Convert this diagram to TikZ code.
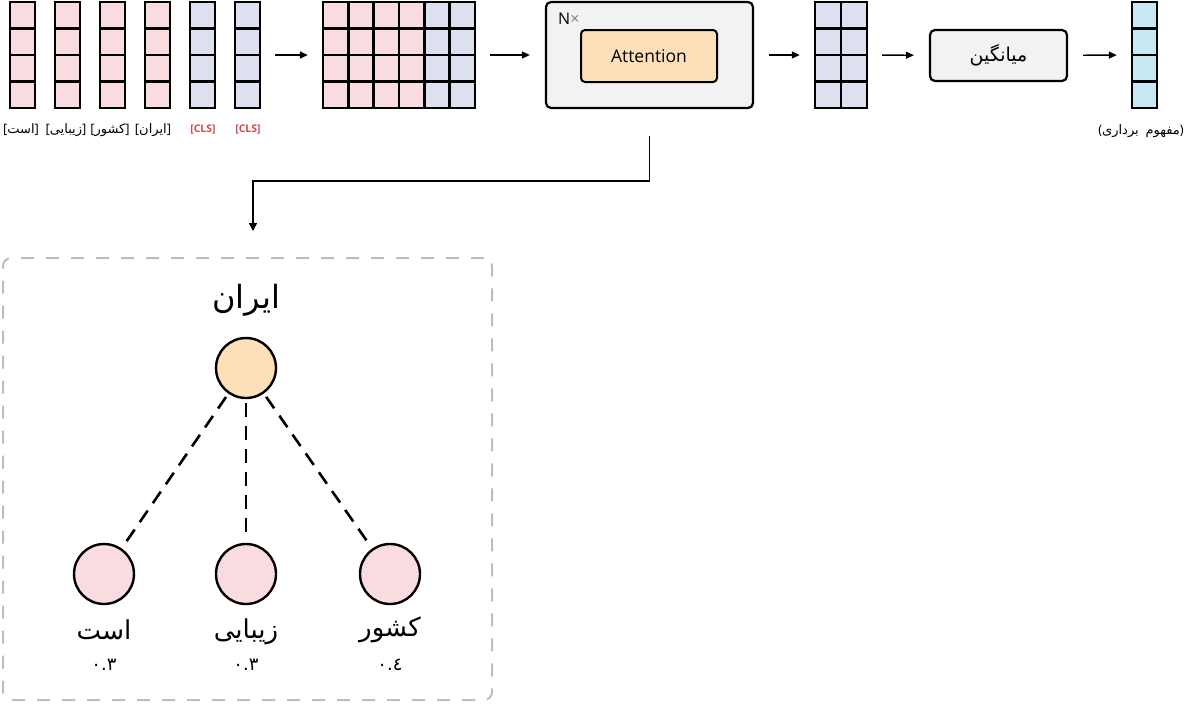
\documentclass[tikz,border=0pt]{standalone}
\usepackage{fontspec}
\setmainfont{Open Sans}
\newfontfamily\fafont[Script=Arabic]{DejaVu Sans}
\TeXXeTstate=1
\usetikzlibrary{arrows.meta}
\definecolor{tokpink}{HTML}{F9DCDF}
\definecolor{clsblue}{HTML}{DDE0EE}
\definecolor{vecblue}{HTML}{C8E8F4}
\definecolor{attorange}{HTML}{FDDFBA}
\definecolor{boxgray}{HTML}{F2F2F2}
\definecolor{clsred}{HTML}{CC4B4B}
\definecolor{framegray}{HTML}{BDBDBD}
\tikzset{every picture/.append style={x=1pt,y=-1pt}}
\tikzset{
  cell/.style={draw,line width=2.6pt},
  block/.style={inner sep=0pt,minimum height=106},
  graybox/.style={draw,line width=2.2pt,rounded corners=5pt,fill=boxgray},
  attbox/.style={draw,line width=2pt,rounded corners=4pt,fill=attorange},
  flow/.style={-{Triangle[length=8pt,width=7pt]},line width=1.4pt,shorten <=15pt,shorten >=15pt},
  link/.style={-{Triangle[length=8pt,width=8pt]},line width=1.6pt,shorten >=26pt},
  tok/.style={inner sep=0pt,font=\fontsize{13}{15}\selectfont},
  cls/.style={inner sep=0pt,font=\bfseries\fontsize{10.5}{12}\selectfont,text=clsred},
  zoombox/.style={draw=framegray,line width=2pt,dash pattern=on 13pt off 12pt,rounded corners=8pt},
  circ/.style={circle,draw,line width=2.4pt,minimum size=60,inner sep=0pt},
  weight/.style={draw,line width=2.6pt,dash pattern=on 14pt off 9pt,shorten <=4pt,shorten >=4pt},
  word/.style={font=\fafont\fontsize{26}{30}\selectfont},
  score/.style={font=\fafont\fontsize{18}{20}\selectfont}
}

\begin{document}
\begin{tikzpicture}
  \useasboundingbox (0,0) rectangle (1187,704);
  \foreach \x/\c in {10/tokpink,55/tokpink,100/tokpink,145/tokpink,190/clsblue,235/clsblue}
    \foreach \r in {0,...,3}
      \draw[cell,fill=\c] (\x,2+26.5*\r) rectangle ++(25,26.5);
  \foreach \i/\c in {0/tokpink,1/tokpink,2/tokpink,3/tokpink,4/clsblue,5/clsblue}
    \foreach \r in {0,...,3}
      \draw[cell,fill=\c] (323+25.33*\i,2+26.5*\r) rectangle ++(25.33,26.5);
  \foreach \i in {0,1}
    \foreach \r in {0,...,3}
      \draw[cell,fill=clsblue] (815+26*\i,2+26.5*\r) rectangle ++(26,26.5);
  \foreach \r in {0,...,3}
    \draw[cell,fill=vecblue] (1132,2+26.5*\r) rectangle ++(25,26.5);
  \node[block,minimum width=250] (tokens) at(135,55){};
  \node[block,minimum width=152] (mat) at(399,55){};
  \node[graybox,minimum width=207,minimum height=106] (nx) at(649.5,55){};
  \node[attbox,minimum width=136,minimum height=52,font=\fontsize{17.5}{20}\selectfont] (att) at(649,56){Attention};
  \node[anchor=base west,inner sep=0pt,font=\fontsize{16}{18}\selectfont] (times) at(558,24){N{\color{gray}×}};
  \node[block,minimum width=52] (mat2) at(841,55){};
  \node[graybox,minimum width=137,minimum height=51,font=\fafont\fontsize{19}{22}\selectfont] (avg) at(998.5,55.5){\beginR میانگین\endR};
  \node[block,minimum width=25] (vec) at(1144.5,55){};
  \draw[flow] (tokens) -- (mat);
  \draw[flow] (mat) -- (nx);
  \draw[flow] (nx) -- (mat2);
  \draw[flow] (mat2) -- (avg);
  \draw[flow] (avg) -- (vec);
  \node[tok] (l1) at(21,130){[{\fafont\beginR است\endR}]};
  \node[tok] (l2) at(66,130){[{\fafont\beginR زیبایی\endR}]};
  \node[tok] (l3) at(110,130){[{\fafont\beginR کشور\endR}]};
  \node[tok] (l4) at(153,130){[{\fafont\beginR ایران\endR}]};
  \node[cls] (l5) at(203,130){[CLS]};
  \node[cls] (l6) at(248,130){[CLS]};
  \node[tok] (vlabel) at(1141,131){(\mbox{\fafont برداری}\ \ \mbox{\fafont مفهوم})};
  \node[zoombox,minimum width=489,minimum height=442] (zoom) at(247.5,479){};
  \coordinate (bend) at(253,181);
  \draw[link] ([yshift=-27pt]nx.south) |- (bend) -- (bend |- zoom.north);
  \node[word,font=\fafont\fontsize{32}{36}\selectfont] (iranword) at(246,300){\beginR ایران\endR};
  \node[circ,fill=attorange] (iran) at(246,368){};
  \node[circ,fill=tokpink] (ast) at(104,574){};
  \node[circ,fill=tokpink] (ziba) at(246,574){};
  \node[circ,fill=tokpink] (keshvar) at(390,574){};
  \draw[weight] (iran) -- (ast);
  \draw[weight] (iran) -- (ziba);
  \draw[weight] (iran) -- (keshvar);
  \node[word] (astword) at(104,630){\beginR است\endR};
  \node[word] (zibaword) at(246,632){\beginR زیبایی\endR};
  \node[word] (keshvarword) at(390,630){\beginR کشور\endR};
  \node[score] (astscore) at(104,665){٠.٣};
  \node[score] (zibascore) at(246,665){٠.٣};
  \node[score] (keshvarscore) at(390,665){٠.٤};
\end{tikzpicture}
\end{document}
